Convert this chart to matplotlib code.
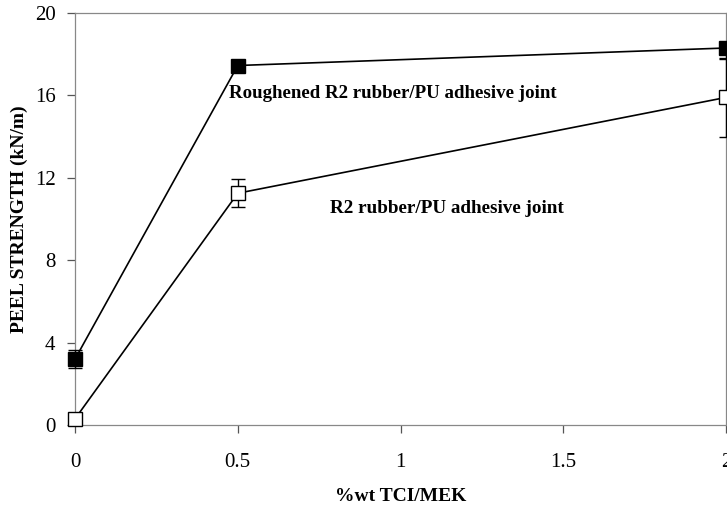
import matplotlib
matplotlib.use("Agg")
import matplotlib.pyplot as plt

# peel strength vs primer concentration
tci = [0, 0.5, 2]
rough_strength = [3.2, 17.45, 18.3]
rough_err_low = [0.45, 0.0, 0.55]
rough_err_high = [0.45, 0.0, 0.0]
plain_strength = [0.3, 11.25, 15.9]
plain_err = [0.0, 0.68, 1.9]

plt.rcParams['font.family'] = ['Liberation Serif', 'DejaVu Serif']

fig = plt.figure(figsize=(7.27, 5.07), dpi=100)
ax = fig.add_axes([0.1032, 0.1617, 0.8954, 0.8127])

ax.errorbar(tci, rough_strength, yerr=[rough_err_low, rough_err_high],
            color='black', lw=1.2, marker='s', ms=10, mfc='black',
            mec='black', capsize=5, elinewidth=1, clip_on=False, zorder=3)
ax.errorbar(tci, plain_strength, yerr=plain_err, color='black', lw=1.2,
            marker='s', ms=10, mfc='white', mec='black', mew=1, capsize=5,
            elinewidth=1, clip_on=False, zorder=3)

ax.text(0.473, 16.1, 'Roughened R2 rubber/PU adhesive joint', fontsize=13.6,
        fontweight='bold', ha='left', va='center')
ax.text(0.783, 10.5, 'R2 rubber/PU adhesive joint', fontsize=13.8,
        fontweight='bold', ha='left', va='center')

ax.set_xlim(0, 2)
ax.set_ylim(0, 20)
ax.set_xticks([0, 0.5, 1, 1.5, 2])
ax.set_xticklabels(['0', '0.5', '1', '1.5', '2'])
ax.set_yticks([0, 4, 8, 12, 16, 20])

for s in ax.spines.values():
    s.set_color('#888888')
    s.set_linewidth(0.9)

ax.tick_params(axis='both', direction='out', length=6, width=0.9,
               color='#555555', labelsize=15)
ax.tick_params(axis='x', pad=14)
ax.tick_params(axis='y', pad=8)

ax.set_xlabel('%wt TCI/MEK', fontsize=14, fontweight='bold', labelpad=12)
ax.set_ylabel('PEEL STRENGTH (kN/m)', fontsize=14, fontweight='bold',
              labelpad=5)

fig.savefig('out.png', dpi=100)
